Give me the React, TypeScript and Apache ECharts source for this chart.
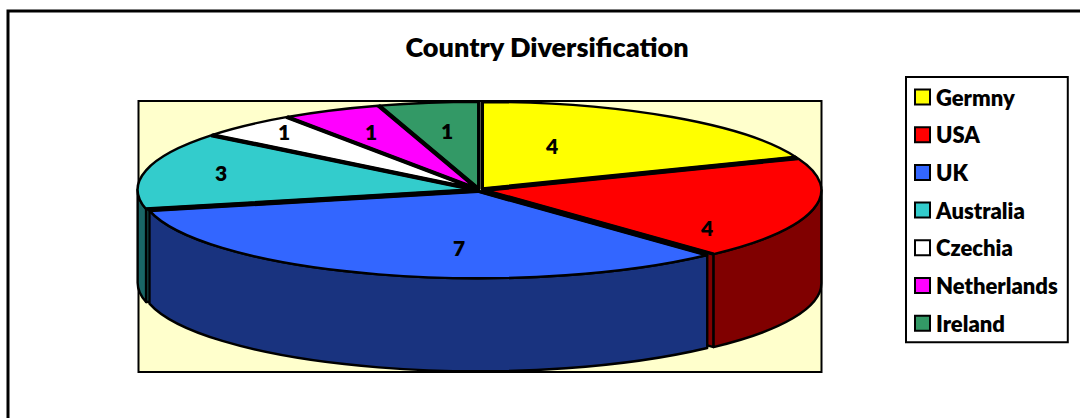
import React, { useEffect, useRef } from "react";
import * as echarts from "echarts";

const titleText = "Country Diversification";
const countries = ["Germny", "USA", "UK", "Australia", "Czechia", "Netherlands", "Ireland"];
const shares = [4, 4, 7, 3, 1, 1, 1];
const topColors = ["#FFFF00", "#FF0000", "#3366FF", "#33CCCC", "#FFFFFF", "#FF00FF", "#339966"];
const sideColors = ["#808000", "#800000", "#19337F", "#196666", "#808080", "#800080", "#194D33"];
const paintOrder = [6, 5, 4, 0, 3, 1, 2];
const labelSpots = [[552, 145], [707, 227], [459, 247], [221, 172], [284, 131], [371, 131], [447, 130]];

const CX = 479.5, CY = 190, RX = 337, RY = 87, DEPTH = 93, EXPLODE = 5;
const FONT = "Lato, Carlito, Calibri, sans-serif";
const total = shares.reduce((a, b) => a + b, 0);

function sliceRange(i: number, value: number) {
  const before = shares.slice(0, i).reduce((a, b) => a + b, 0);
  return [(before / total) * 360, ((before + value) / total) * 360];
}

function makeRender(i: number) {
  return (_params: any, api: any) => {
    const value = api.value(0);
    const [s, e] = sliceRange(i, value);
    const mid = (((s + e) / 2) * Math.PI) / 180;
    const cx = CX + EXPLODE * Math.sin(mid);
    const cy = CY - (EXPLODE * Math.cos(mid) * RY) / RX;
    const pt = (deg: number, dy = 0) => {
      const r = (deg * Math.PI) / 180;
      return `${(cx + RX * Math.sin(r)).toFixed(2)} ${(cy - RY * Math.cos(r) + dy).toFixed(2)}`;
    };
    const line = { stroke: "#000", lineWidth: 2.4, lineJoin: "round" };
    const children: any[] = [];
    const face = (deg: number) =>
      children.push({
        type: "path",
        shape: { pathData: `M${cx} ${cy}L${pt(deg)}L${pt(deg, DEPTH)}L${cx} ${cy + DEPTH}Z` },
        style: { fill: sideColors[i], ...line },
      });
    if (s > 180 && s < 360) face(s);
    if (e > 0 && e < 180) face(e);
    const a = Math.max(s, 90), b = Math.min(e, 270);
    if (a < b) {
      const big = b - a > 180 ? 1 : 0;
      children.push({
        type: "path",
        shape: {
          pathData: `M${pt(a)}A${RX} ${RY} 0 ${big} 1 ${pt(b)}L${pt(b, DEPTH)}A${RX} ${RY} 0 ${big} 0 ${pt(a, DEPTH)}Z`,
        },
        style: { fill: sideColors[i], ...line },
      });
    }
    children.push({
      type: "path",
      shape: {
        pathData: `M${cx} ${cy}L${pt(s)}A${RX} ${RY} 0 ${e - s > 180 ? 1 : 0} 1 ${pt(e)}Z`,
      },
      style: { fill: topColors[i], ...line },
    });
    children.push({
      type: "path",
      shape: { pathData: `M${pt(s)}L${cx} ${cy}L${pt(e)}` },
      style: { fill: "none", stroke: "#000", lineWidth: 3.4, lineJoin: "round" },
    });
    children.push({
      type: "text",
      z2: 100,
      style: {
        text: String(value),
        x: labelSpots[i][0],
        y: labelSpots[i][1],
        align: "center",
        verticalAlign: "middle",
        fill: "#000",
        font: `800 21px ${FONT}`,
      },
    });
    return { type: "group", children };
  };
}

export default function App() {
  const ref = useRef<HTMLDivElement>(null);
  useEffect(() => {
    document.body.style.margin = "0";
    const chart = echarts.init(ref.current!, null, { renderer: "svg" });
    chart.setOption({
      animation: false,
      backgroundColor: "#FFFFFF",
      title: {
        text: titleText,
        left: 547,
        top: 33,
        padding: 0,
        textAlign: "center",
        textStyle: { fontFamily: FONT, fontWeight: 800, fontSize: 27, color: "#000" },
      },
      legend: {
        orient: "vertical",
        left: 906,
        top: 77,
        padding: [9, 10, 8, 8],
        backgroundColor: "#FFFFFF",
        borderColor: "#000",
        borderWidth: 2,
        borderRadius: 0,
        itemWidth: 15,
        itemHeight: 15,
        itemGap: 15.7,
        selectedMode: false,
        icon: "rect",
        data: countries.map((name, i) => ({
          name,
          itemStyle: { color: topColors[i], borderColor: "#000", borderWidth: 2 },
        })),
        textStyle: { fontFamily: FONT, fontWeight: 800, fontSize: 22, color: "#000", padding: [0, 0, 0, 1] },
      },
      graphic: [
        {
          type: "rect",
          silent: true,
          shape: { x: 8, y: 11, width: 1140, height: 460 },
          style: { fill: "#FFFFFF", stroke: "#000", lineWidth: 3 },
        },
        {
          type: "rect",
          silent: true,
          shape: { x: 138.5, y: 101, width: 683, height: 271 },
          style: { fill: "#FFFFCC", stroke: "#000", lineWidth: 2 },
        },
      ],
      series: paintOrder.map((i) => ({
        type: "custom",
        name: countries[i],
        coordinateSystem: "none",
        silent: true,
        itemStyle: { color: topColors[i] },
        data: [[shares[i]]],
        renderItem: makeRender(i),
      })),
    });
    return () => chart.dispose();
  }, []);
  return <div ref={ref} style={{ width: 1080, height: 418 }} />;
}
